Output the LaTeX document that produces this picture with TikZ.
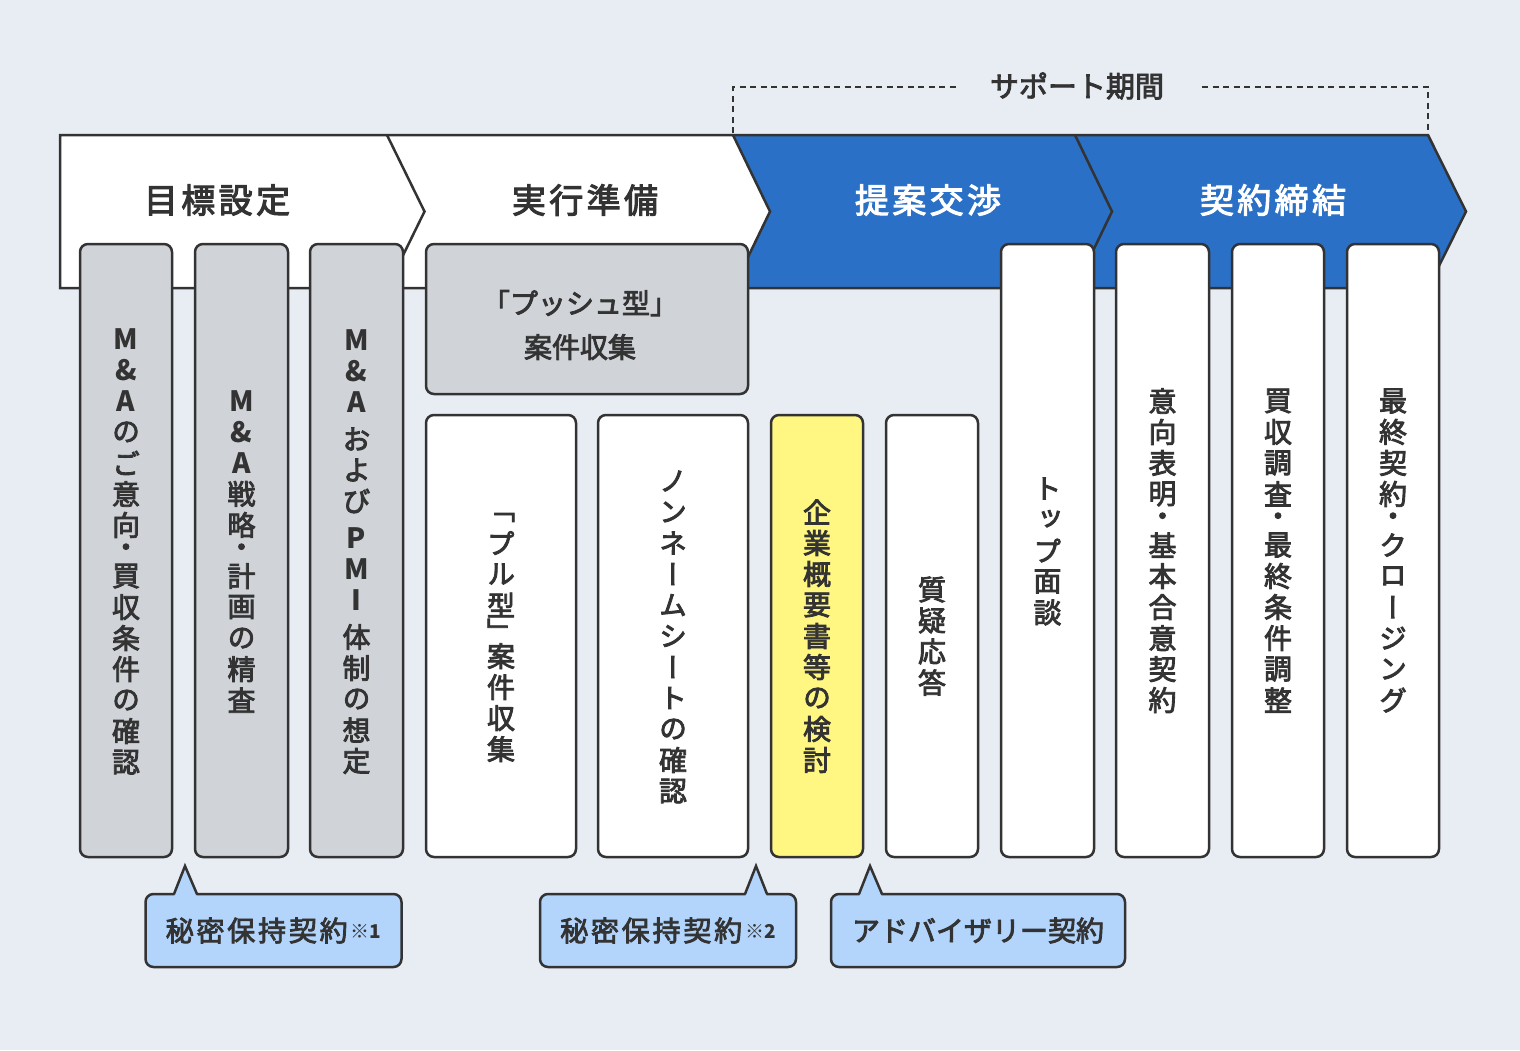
\documentclass[tikz,border=0pt]{standalone}
\usepackage{fontspec}
\setmainfont[UprightFeatures={FakeBold=3}]{Noto Sans CJK JP}
\newfontfamily\vfont[RawFeature=+vert, UprightFeatures={FakeBold=3}]{Noto Sans CJK JP}
\newfontfamily\hdfont[LetterSpace=10, UprightFeatures={FakeBold=3}]{Noto Sans CJK JP}
\newfontfamily\plainfont{Noto Sans CJK JP}
\usetikzlibrary{calc}
\definecolor{bg}{HTML}{E8ECF3}
\definecolor{ln}{HTML}{333333}
\definecolor{txt}{HTML}{333333}
\definecolor{bluebar}{HTML}{2970C6}
\definecolor{graybox}{HTML}{D0D4D9}
\definecolor{yel}{HTML}{FFF782}
\definecolor{callblue}{HTML}{B3D5FC}

\makeatletter
\newdimen\vtpitch \vtpitch=31pt
\newdimen\vt@p \newif\ifvt@half \newif\ifvt@bold
\def\vt@end{\vt@end}
\def\hf{\hf}\def\qs{\qs}\def\bL{\bL}\def\eL{\eL}
\newcommand\vt[1]{\vbox{\offinterlineskip\vt@halffalse\vt@boldfalse\vt@loop#1\vt@end}}
\def\vt@loop#1{\ifx\vt@end#1\else\vt@item#1\expandafter\vt@loop\fi}
\def\vt@item#1{%
  \ifx\hf#1\vt@halftrue\else
  \ifx\qs#1\kern6pt\else
  \ifx\bL#1\vt@boldtrue\else
  \ifx\eL#1\vt@boldfalse\else
  \ifvt@half\vt@p=.65\vtpitch\else\vt@p=\vtpitch\fi\vt@halffalse
  \vbox to\vt@p{\vss\hbox to 44pt{\hss\ifvt@bold\bfseries\fi#1\hss}\vss}%
  \fi\fi\fi\fi}
\makeatother
\newcommand\notemark[1]{\kern3pt\raisebox{3pt}{\fontsize{19}{19}\selectfont\plainfont ※\bfseries#1}}

\tikzset{
  line/.style={draw=ln, line width=2.5pt},
  colbox/.style={line, rounded corners=8pt, inner sep=0pt, text=txt,
    font=\vfont\fontsize{28}{31}\selectfont},
  colgray/.style={colbox, fill=graybox},
  colwhite/.style={colbox, fill=white},
  colyel/.style={colbox, fill=yel},
  tall/.style={minimum height=613pt},
  short/.style={minimum height=442pt},
  callout/.style={line, fill=callblue, rounded corners=8pt, minimum height=73pt,
    text=txt, font=\hdfont\fontsize{28}{30}\selectfont},
  phase/.style={font=\hdfont\fontsize{34}{40}\selectfont},
  ptr/.style={line, line join=miter},
}

\begin{document}
\begin{tikzpicture}[x=1pt, y=-1pt]
\useasboundingbox (0,0) rectangle (1520,1050);
\fill[bg] (0,0) rectangle (1520,1050);

% banner
\fill[white] (60,135) -- (733,135) -- (770,211.5) -- (733,288) -- (60,288) -- cycle;
\fill[bluebar] (733,135) -- (1428,135) -- (1466,211.5) -- (1428,288) -- (733,288) -- (770,211.5) -- cycle;
\draw[line, line join=miter] (60,135) -- (1428,135) -- (1466,211.5) -- (1428,288) -- (60,288) -- cycle;
\draw[line, line join=miter] (387,135) -- (424.5,211.5) -- (387,288);
\draw[line, line join=miter] (733,135) -- (770,211.5) -- (733,288);
\draw[line, line join=miter] (1075,135) -- (1112,211.5) -- (1075,288);
\node[phase, text=txt] (p1) at (217,200) {目標設定};
\node[phase, text=txt] (p2) at (585,200) {実行準備};
\node[phase, text=white] (p3) at (928,200) {提案交渉};
\node[phase, text=white] (p4) at (1273,200) {契約締結};

% support period bracket
\node[text=txt, font=\fontsize{29}{32}\selectfont] (sp) at (1077,86) {サポート期間};
\draw[draw=ln, line width=2pt, dash pattern=on 6pt off 4.5pt] (733,133) -- (733,87) -- (956,87);
\draw[draw=ln, line width=2pt, dash pattern=on 6pt off 4.5pt] (1202,87) -- (1428,87) -- (1428,133);

% columns
\node[colgray, tall, minimum width=92pt] (c1) at (126,550.5) {\vt{\bL M\&A\eL のご意向\hf・買収条件の確認}};
\node[colgray, tall, minimum width=93pt] (c2) at (241.5,550.5) {\vt{\bL M\&A\eL 戦略\hf・計画の精査}};
\node[colgray, tall, minimum width=93pt] (c3) at (356.5,550.5) {\vt{\bL M\&A\eL\qs および\qs\bL PMI\eL\qs 体制の想定}};
\node[colgray, minimum width=322pt, minimum height=150pt] (push) at (587,319) {};
\node[text=txt, align=center, font=\fontsize{28}{44}\selectfont] (pusht) at (580,325) {「プッシュ型」\\案件収集};
\node[colwhite, short, minimum width=150pt] (pull) at (501,636) {\vt{\hf「プル型\hf」案件収集}};
\node[colwhite, short, minimum width=150pt] (non) at (673,636) {\vt{ノンネームシートの確認}};
\node[colyel, short, minimum width=92pt] (kig) at (817,636) {\vt{企業概要書等の検討}};
\node[colwhite, short, minimum width=92pt] (qa) at (932,636) {\vt{質疑応答}};
\node[colwhite, tall, minimum width=93pt] (top) at (1047.5,550.5) {\vt{トップ面談}};
\node[colwhite, tall, minimum width=93pt] (loi) at (1162.5,550.5) {\vt{意向表明\hf・基本合意契約}};
\node[colwhite, tall, minimum width=92pt] (dd) at (1278,550.5) {\vt{買収調査\hf・最終条件調整}};
\node[colwhite, tall, minimum width=92pt] (fin) at (1393,550.5) {\vt{最終契約\hf・クロージング}};

% callouts
\node[callout, minimum width=256pt] (n1) at (273.5,930.5) {秘密保持契約\notemark{1}};
\fill[callblue] (174,897) -- (185,866) -- (197,897) -- cycle;
\draw[ptr] (174,894) -- (185,866) -- (197,894);

\node[callout, minimum width=256pt] (n2) at (668,930.5) {秘密保持契約\notemark{2}};
\fill[callblue] (745,897) -- (756,866) -- (767,897) -- cycle;
\draw[ptr] (745,894) -- (756,866) -- (767,894);

\node[callout, minimum width=294pt, font=\fontsize{28}{30}\selectfont] (n3) at (978,930.5) {アドバイザリー契約};
\fill[callblue] (859,897) -- (870,866) -- (882,897) -- cycle;
\draw[ptr] (859,894) -- (870,866) -- (882,894);
\end{tikzpicture}
\end{document}
